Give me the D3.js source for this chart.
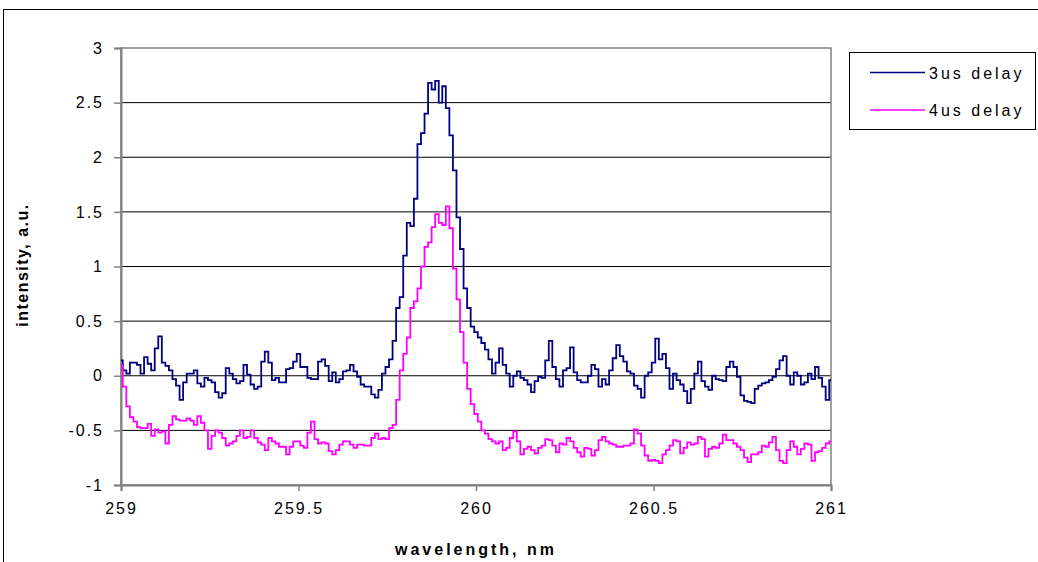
<!DOCTYPE html>
<html>
<head>
<meta charset="utf-8">
<script src="https://cdn.jsdelivr.net/npm/d3@7"></script>
<style>
  body { margin: 0; background: #fff; }
  svg { display: block; font-family: "Liberation Sans", Arial, sans-serif; }
</style>
</head>
<body>
<div id="chart"></div>
<script>
// wavelength grid, nm
const wlStart = 259;
const wlStep = 0.01;

// 3us delay intensity, a.u. (one value per 0.01 nm)
const delay3 = [
  0.14, 0.05, 0.02, 0.12, 0.12, 0.10, 0.02, 0.17, 0.11, 0.05,
  0.25, 0.36, 0.12, 0.09, 0.05, -0.03, -0.09, -0.22, -0.06, 0.02,
  0.02, 0.05, -0.07, -0.10, -0.02, -0.04, -0.06, -0.15, -0.20, -0.16,
  0.07, 0.02, -0.03, -0.07, -0.05, 0.10, 0.01, -0.08, -0.12, -0.10,
  0.13, 0.22, 0.12, -0.04, -0.02, -0.06, -0.06, 0.06, 0.07, 0.13,
  0.20, 0.08, 0.08, -0.02, -0.03, -0.03, 0.13, 0.15, 0.09, -0.05,
  0.03, -0.06, -0.03, 0.04, 0.05, 0.10, 0.04, -0.01, -0.08, -0.10,
  -0.10, -0.17, -0.20, -0.13, 0.02, 0.08, 0.15, 0.32, 0.62, 0.72,
  1.10, 1.40, 1.37, 1.62, 2.12, 2.22, 2.40, 2.68, 2.62, 2.70,
  2.50, 2.65, 2.45, 2.20, 1.88, 1.45, 1.16, 0.80, 0.62, 0.45,
  0.40, 0.35, 0.30, 0.24, 0.15, 0.02, 0.12, 0.25, 0.10, 0.02,
  -0.10, 0.00, 0.04, -0.02, -0.04, -0.08, -0.15, -0.05, -0.01, -0.02,
  0.14, 0.32, 0.08, -0.03, -0.10, 0.05, 0.07, 0.26, 0.03, -0.04,
  -0.06, -0.06, 0.00, 0.10, 0.06, -0.10, -0.03, -0.08, 0.05, 0.16,
  0.28, 0.18, 0.13, 0.04, 0.02, -0.09, -0.12, -0.20, 0.00, 0.03,
  0.12, 0.34, 0.15, 0.20, 0.07, -0.12, 0.02, -0.04, -0.08, -0.14,
  -0.25, -0.12, 0.02, 0.13, -0.05, -0.10, -0.13, 0.00, -0.03, -0.04,
  -0.05, 0.08, 0.13, 0.08, -0.01, -0.18, -0.23, -0.24, -0.25, -0.12,
  -0.09, -0.07, -0.06, -0.04, -0.01, 0.06, 0.14, 0.18, 0.00, -0.08,
  0.03, 0.00, -0.08, -0.06, 0.02, -0.03, 0.08, -0.02, -0.10, -0.22,
  -0.04
];

// 4us delay intensity, a.u.
const delay4 = [
  0.10, -0.10, -0.28, -0.38, -0.42, -0.47, -0.48, -0.48, -0.44, -0.55,
  -0.49, -0.52, -0.51, -0.62, -0.45, -0.37, -0.40, -0.41, -0.41, -0.39,
  -0.41, -0.45, -0.37, -0.43, -0.50, -0.67, -0.55, -0.50, -0.52, -0.57,
  -0.64, -0.62, -0.60, -0.55, -0.50, -0.57, -0.56, -0.50, -0.57, -0.61,
  -0.63, -0.68, -0.57, -0.60, -0.62, -0.65, -0.65, -0.72, -0.65, -0.60,
  -0.60, -0.64, -0.66, -0.52, -0.42, -0.58, -0.62, -0.61, -0.62, -0.69,
  -0.72, -0.68, -0.63, -0.60, -0.60, -0.63, -0.66, -0.63, -0.63, -0.64,
  -0.64, -0.57, -0.53, -0.58, -0.57, -0.58, -0.48, -0.45, -0.22, 0.05,
  0.20, 0.35, 0.62, 0.68, 0.80, 1.00, 1.18, 1.22, 1.36, 1.48,
  1.40, 1.38, 1.55, 1.35, 0.98, 0.70, 0.40, 0.12, -0.12, -0.26,
  -0.35, -0.42, -0.50, -0.53, -0.58, -0.60, -0.62, -0.60, -0.68, -0.66,
  -0.57, -0.51, -0.60, -0.72, -0.67, -0.65, -0.68, -0.71, -0.66, -0.64,
  -0.58, -0.59, -0.64, -0.70, -0.62, -0.63, -0.57, -0.60, -0.66, -0.70,
  -0.74, -0.66, -0.67, -0.73, -0.68, -0.59, -0.56, -0.60, -0.62, -0.63,
  -0.65, -0.65, -0.64, -0.64, -0.62, -0.49, -0.53, -0.64, -0.73, -0.78,
  -0.77, -0.78, -0.80, -0.72, -0.68, -0.64, -0.59, -0.60, -0.71, -0.66,
  -0.61, -0.63, -0.62, -0.56, -0.58, -0.74, -0.67, -0.65, -0.66, -0.62,
  -0.54, -0.59, -0.59, -0.62, -0.65, -0.68, -0.75, -0.79, -0.72, -0.72,
  -0.70, -0.64, -0.65, -0.61, -0.56, -0.68, -0.78, -0.80, -0.68, -0.60,
  -0.65, -0.72, -0.67, -0.62, -0.63, -0.78, -0.70, -0.69, -0.66, -0.62,
  -0.60
];

const seriesNames = ["3us delay", "4us delay"];
const seriesColors = ["#000080", "#FF00FF"];
const xTicks = [259, 259.5, 260, 260.5, 261];
const yTicks = [-1, -0.5, 0, 0.5, 1, 1.5, 2, 2.5, 3];

const width = 1038, height = 562;
const plotLeft = 121, plotRight = 831, plotTop = 48, plotBottom = 485;

const svg = d3.select("#chart").append("svg")
    .attr("width", width)
    .attr("height", height);

// outer chart border (runs off the picture on right/bottom)
svg.append("rect")
    .attr("x", 3.5).attr("y", 9.5)
    .attr("width", 1100).attr("height", 600)
    .attr("fill", "none").attr("stroke", "#000");

const x = d3.scaleLinear().domain([259, 261]).range([plotLeft, plotRight]);
const y = d3.scaleLinear().domain([-1, 3]).range([plotBottom, plotTop]);

// horizontal gridlines
svg.append("g").selectAll("line")
    .data(yTicks.filter(d => d > -1 && d < 3))
    .enter().append("line")
    .attr("x1", plotLeft).attr("x2", plotRight)
    .attr("y1", d => y(d)).attr("y2", d => y(d))
    .attr("stroke", "#000").attr("stroke-width", 1);

// plot frame
svg.append("rect")
    .attr("x", plotLeft).attr("y", plotTop)
    .attr("width", plotRight - plotLeft).attr("height", plotBottom - plotTop)
    .attr("fill", "none").attr("stroke", "#808080").attr("stroke-width", 1.5);

const fmt = d => String(d);

const yAxis = svg.append("g")
    .attr("transform", `translate(${plotLeft},0)`)
    .call(d3.axisLeft(y).tickValues(yTicks).tickSize(7).tickPadding(10).tickFormat(fmt));
const xAxis = svg.append("g")
    .attr("transform", `translate(0,${plotBottom})`)
    .call(d3.axisBottom(x).tickValues(xTicks).tickSize(6).tickPadding(12).tickFormat(fmt));

for (const ax of [yAxis, xAxis]) {
    ax.select(".domain").attr("stroke", "#808080").attr("stroke-width", 2);
    ax.selectAll(".tick line").attr("stroke", "#808080").attr("stroke-width", 1.5);
    ax.selectAll(".tick text")
        .attr("fill", "#000")
        .style("font-family", "Liberation Sans, Arial, sans-serif")
        .style("font-size", "16px")
        .attr("letter-spacing", "2px");
}

// data lines, stepped like the original spectrometer trace
const line = d3.line()
    .curve(d3.curveStep)
    .x((d, i) => x(wlStart + i * wlStep))
    .y(d => y(d));

[delay3, delay4].forEach((vals, i) => {
    svg.append("path")
        .datum(vals)
        .attr("fill", "none")
        .attr("stroke", seriesColors[i])
        .attr("stroke-width", 1.8)
        .attr("d", line);
});

// axis titles
svg.append("text")
    .attr("x", 476).attr("y", 555)
    .attr("text-anchor", "middle")
    .style("font-size", "16px").style("font-weight", "bold")
    .attr("letter-spacing", "3px")
    .text("wavelength, nm");

svg.append("text")
    .attr("transform", "translate(28,265) rotate(-90)")
    .attr("text-anchor", "middle")
    .style("font-size", "16px").style("font-weight", "bold")
    .attr("letter-spacing", "1.5px")
    .text("intensity, a.u.");

// legend
const legend = svg.append("g");
legend.append("rect")
    .attr("x", 849.5).attr("y", 52.5)
    .attr("width", 186).attr("height", 77)
    .attr("fill", "#fff").attr("stroke", "#000");
seriesNames.forEach((name, i) => {
    const ly = 72.5 + i * 37.5;
    legend.append("line")
        .attr("x1", 870).attr("x2", 925)
        .attr("y1", ly).attr("y2", ly)
        .attr("stroke", seriesColors[i]).attr("stroke-width", 1.6);
    legend.append("text")
        .attr("x", 929).attr("y", ly + 6)
        .style("font-size", "16px")
        .attr("letter-spacing", "3px")
        .text(name);
});
</script>
</body>
</html>
